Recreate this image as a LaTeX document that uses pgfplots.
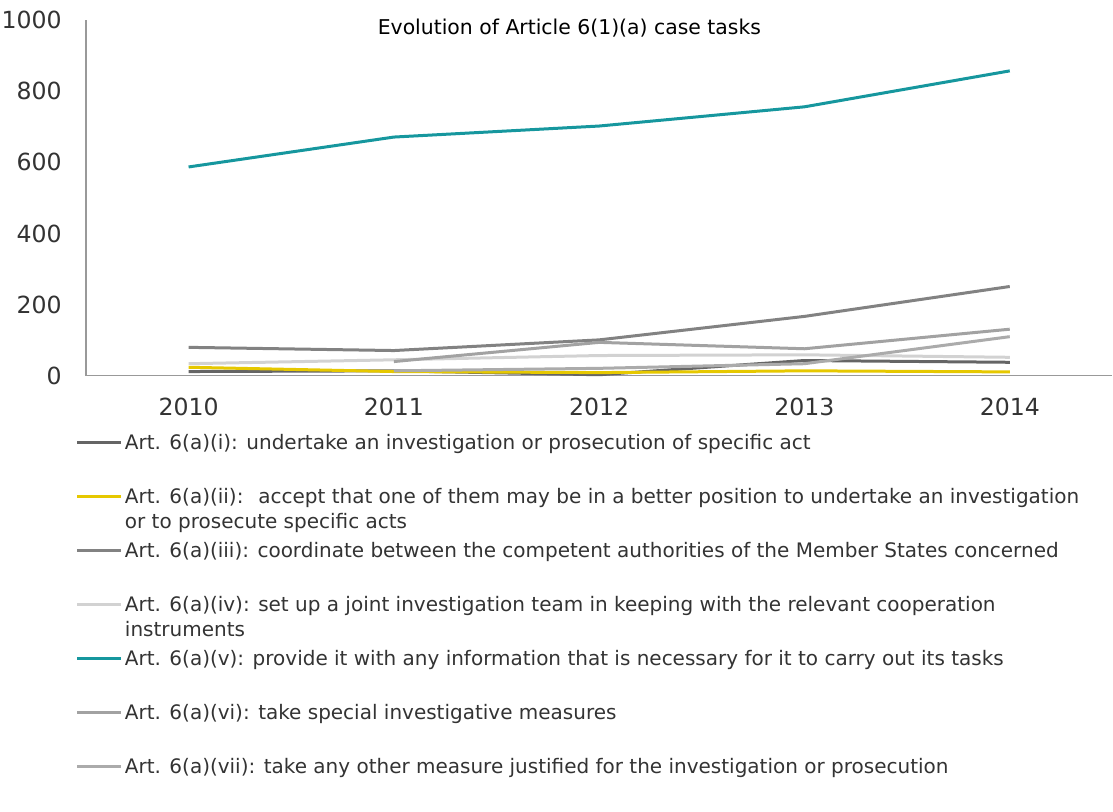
\documentclass[border=0pt]{standalone}
\usepackage{pgfplots}
\pgfplotsset{compat=1.18}
\usepackage{fontspec}
\setmainfont{DejaVu Sans}
\usepackage{xcolor}

\definecolor{cI}{HTML}{656565}
\definecolor{cII}{HTML}{E6C800}
\definecolor{cIII}{HTML}{828282}
\definecolor{cIV}{HTML}{D2D2D2}
\definecolor{cV}{HTML}{16979E}
\definecolor{cVI}{HTML}{A2A2A2}
\definecolor{cVII}{HTML}{ABABAB}
\definecolor{txt}{HTML}{333333}

\newcommand{\two}[2]{\parbox[t]{480pt}{\baselineskip=12.5pt #1\\#2}}

\begin{document}
\begin{tikzpicture}
\begin{axis}[
    at={(0,0)}, anchor=south west,
    scale only axis,
    width=513.5pt, height=178pt,
    xmin=2009.5, xmax=2014.5,
    ymin=0, ymax=1000,
    xtick={2010,2011,2012,2013,2014},
    ytick={0,200,400,600,800,1000},
    /pgf/number format/1000 sep={},
    /pgf/number format/assume math mode=true,
    major tick length=0pt,
    axis lines*=left,
    axis line style={draw=black!40, line width=0.6pt, -},
    ticklabel style={font=\fontsize{11.8}{14}\selectfont, text=txt},
    yticklabel style={anchor=east, inner sep=0pt, xshift=-12pt},
    xticklabel style={anchor=north, inner sep=0pt, yshift=-11pt},
    clip=false,
    every axis plot/.append style={line width=1.5pt, line join=round, no markers},
    legend style={draw=none, fill=none, inner sep=0pt, outer sep=0pt,
        at={(-0.0097,-0.163)}, anchor=north west,
        font=\fontsize{10}{12.5}\selectfont, text=txt,
        cells={anchor=base west},
        nodes={inner sep=0pt, text height=8pt, text depth=19pt},
        column sep=1pt, row sep=0pt},
    legend cell align=left,
    legend image code/.code={\draw[#1] (0pt,9pt) -- (22pt,9pt);},
]
\addplot[cI] coordinates {(2010,12) (2011,14) (2012,3) (2013,43) (2014,38)};
\addlegendentry{Art. 6(a)(i): undertake an investigation or prosecution of specific act}
\addplot[cII] coordinates {(2010,24) (2011,12) (2012,9) (2013,14) (2014,11)};
\addlegendentry{\two{Art. 6(a)(ii): \ accept that one of them may be in a better position to undertake an investigation}{or to prosecute specific acts}}
\addplot[cIII] coordinates {(2010,80) (2011,71) (2012,101) (2013,167) (2014,251)};
\addlegendentry{Art. 6(a)(iii): coordinate between the competent authorities of the Member States concerned}
\addplot[cIV] coordinates {(2010,34) (2011,45) (2012,57) (2013,59) (2014,52)};
\addlegendentry{\two{Art. 6(a)(iv): set up a joint investigation team in keeping with the relevant cooperation}{instruments}}
\addplot[cV] coordinates {(2010,587) (2011,671) (2012,702) (2013,756) (2014,857)};
\addlegendentry{Art. 6(a)(v): provide it with any information that is necessary for it to carry out its tasks}
\addplot[cVI] coordinates {(2011,40) (2012,94) (2013,76) (2014,131)};
\addlegendentry{Art. 6(a)(vi): take special investigative measures}
\addplot[cVII] coordinates {(2011,14) (2012,21) (2013,34) (2014,110)};
\addlegendentry{Art. 6(a)(vii): take any other measure justified for the investigation or prosecution}
\node[font=\fontsize{10.2}{12}\selectfont, text=black] at (axis description cs:0.471,0.9775) {Evolution of Article 6(1)(a) case tasks};
\end{axis}
\path (-43pt,-201.5pt) rectangle (513.5pt,188pt);
\end{tikzpicture}
\end{document}
